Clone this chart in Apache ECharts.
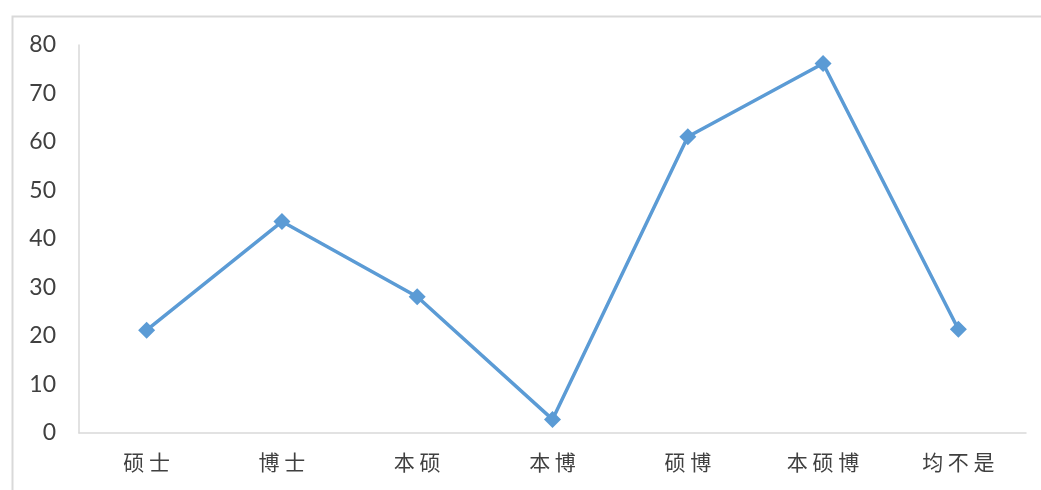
<!DOCTYPE html>
<html>
<head>
<meta charset="utf-8">
<script src="https://cdn.jsdelivr.net/npm/echarts@6/dist/echarts.min.js"></script>
<style>
html,body{margin:0;padding:0;background:#fff;}
#c{width:1041px;height:490px;}
</style>
</head>
<body>
<div id="c"></div>
<script>
const categories = ['硕士', '博士', '本硕', '本博', '硕博', '本硕博', '均不是'];
const values = [21.2, 43.6, 28.1, 2.8, 61.1, 76.2, 21.4];
const yTicks = { min: 0, max: 80, interval: 10 };

const chart = echarts.init(document.getElementById('c'));
chart.setOption({
  animation: false,
  backgroundColor: '#fff',
  graphic: [{
    type: 'rect',
    left: 10, top: 14,
    shape: { width: 1040, height: 480 },
    style: { fill: 'none', stroke: '#d9d9d9', lineWidth: 2 },
    silent: true
  }],
  grid: { left: 79, right: 15, top: 45, bottom: 57 },
  xAxis: {
    type: 'category',
    data: categories,
    boundaryGap: true,
    axisLine: { show: true, lineStyle: { color: '#d9d9d9', width: 1.5 } },
    axisTick: { show: false },
    axisLabel: {
      margin: 19,
      fontSize: 21,
      color: '#404040',
      fontFamily: 'Noto Sans CJK SC',
      formatter: v => v.split('').join(' ')
    }
  },
  yAxis: {
    type: 'value',
    min: yTicks.min, max: yTicks.max, interval: yTicks.interval,
    axisLine: { show: true, lineStyle: { color: '#d9d9d9', width: 1.5 } },
    axisTick: { show: false },
    splitLine: { show: false },
    axisLabel: { margin: 23, fontSize: 23, color: '#404040', fontFamily: 'Lato' }
  },
  series: [{
    type: 'line',
    data: values,
    symbol: 'diamond',
    symbolSize: 17,
    lineStyle: { color: '#5B9BD5', width: 3.5 },
    itemStyle: { color: '#5B9BD5' }
  }]
});
</script>
</body>
</html>
